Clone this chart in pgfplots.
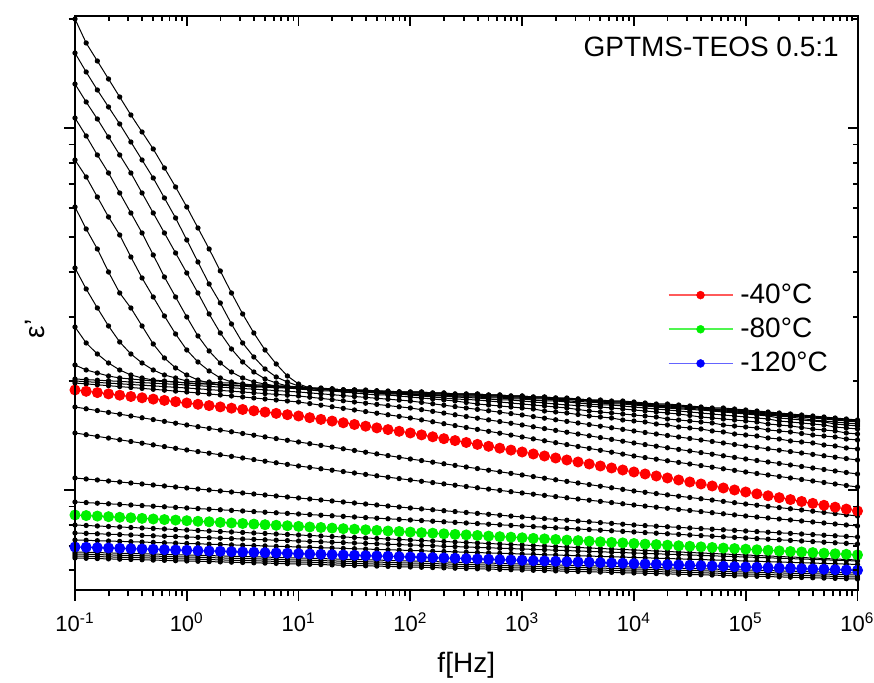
\documentclass[border=0pt]{standalone}
\usepackage{pgfplots}
\pgfplotsset{compat=1.18}
\usepackage{pgfplotstable}
\usepackage{fontspec}
\setmainfont{Liberation Sans}
\definecolor{cred}{RGB}{255,0,0}
\definecolor{cgreen}{RGB}{0,240,0}
\definecolor{cblue}{RGB}{0,0,255}
\definecolor{lred}{RGB}{255,90,90}
\definecolor{lgreen}{RGB}{80,245,80}
\definecolor{lblue}{RGB}{100,100,255}

\pgfplotstableread{
f a1 a2 a3 a4 a5 a6 a7 a8 a9 a10 a11 a12 r b1 b2 b3 b4 g b5 b6 b7 bl b8 b9 b10 b11
1e-1 571 537 506 472 430 383 322 263 225 211 209 207 200 183 157 112 88 75 65 57 50 43 38 36 34 32
1.2589e-1 547 518 488 454 413 361 301 247 220 210.4 208.3 206.1 198.7 181.2 155.3 111 87.4 74.4 64.5 56.6 49.7 42.7 37.7 35.7 33.7 31.7
1.5849e-1 529 500 471 435 393 341 282 236 217 209.8 207.6 205.2 197.4 179.4 153.6 110 86.8 73.9 64 56.2 49.3 42.3 37.4 35.4 33.4 31.4
1.9953e-1 511 483 453 417 373 318 264 227 214 209.2 206.9 204.3 196.1 177.6 151.9 109 86.2 73.3 63.5 55.8 49 42 37.1 35.1 33.1 31.1
2.5119e-1 493 466 435 397 355 297 248 220 212 208.6 206.2 203.4 194.8 175.8 150.2 108 85.6 72.7 63 55.4 48.6 41.7 36.8 34.8 32.8 30.8
3.1623e-1 475 448 417 377 333 282 236 215 211 208 205.5 202.5 193.5 174 148.5 107 85 72.2 62.5 55 48.3 41.3 36.5 34.5 32.5 30.5
3.9811e-1 458 430 397 357 312 264 227 212 210 207.4 204.8 201.6 192.2 172.2 146.8 106 84.4 71.6 62 54.6 47.9 41 36.2 34.2 32.2 30.2
5.0119e-1 441 412 377 335 293 246 220 210 209 206.8 204.1 200.7 190.9 170.4 145.1 105 83.8 71 61.5 54.2 47.6 40.7 35.9 33.9 31.9 29.9
6.3096e-1 422 392 357 313 274 232 215 209 208.5 206.2 203.4 199.8 189.6 168.6 143.4 104 83.2 70.4 61 53.8 47.2 40.3 35.6 33.6 31.6 29.6
7.9433e-1 403 372 337 293 256 222 212 208 208 205.6 202.7 198.9 188.3 166.8 141.7 103 82.6 69.9 60.5 53.4 46.9 40 35.3 33.3 31.3 29.3
1 383 350 317 273 240 215 209 207 207 205 202 198 187 165 140 102 82 69.3 60 53 46.5 39.7 35 33 31 29
1.2589 362 328 297 254 228 210 208 206.5 206 204.3 201.2 197 185.7 163.3 138.4 101 81.4 68.7 59.5 52.6 46.2 39.3 34.7 32.7 30.7 28.7
1.5849 341 306 276 239 219 207 208 206 206 203.6 200.4 196 184.4 161.6 136.8 100 80.8 68.2 59 52.2 45.8 39 34.4 32.4 30.4 28.4
1.9953 319 287 257 227 212 205 207 205.5 205 202.9 199.6 195 183.1 159.9 135.2 99 80.2 67.6 58.5 51.8 45.5 38.7 34.1 32.1 30.1 28.1
2.5119 297 266 241 218 208 204 207 205 205 202.2 198.8 194 181.8 158.2 133.6 98 79.6 67 58 51.4 45.1 38.3 33.8 31.8 29.8 27.8
3.1623 276 247 228 212 206 204 206 204.5 204 201.5 198 193 180.5 156.5 132 97 79 66.5 57.5 51 44.8 38 33.5 31.5 29.5 27.5
3.9811 257 233 218 208 204 203 205 204 203 200.8 197.2 192 179.2 154.8 130.4 96 78.4 65.9 57 50.6 44.4 37.7 33.2 31.2 29.2 27.2
5.0119 240 221 211 206 204 203 205 203.5 203 200.1 196.4 191 177.9 153.1 128.8 95 77.8 65.3 56.5 50.2 44.1 37.3 32.9 30.9 28.9 26.9
6.3096 226 213 207 204 203 203 204 203 202 199.4 195.6 190 176.6 151.4 127.2 94 77.2 64.7 56 49.8 43.7 37 32.6 30.6 28.6 26.6
7.9433 214 208 204 203 203 202 204 202.5 202 198.7 194.8 189 175.3 149.7 125.6 93 76.6 64.2 55.5 49.4 43.4 36.7 32.3 30.3 28.3 26.3
10 206 204 202 202 202 202 203 202 201 198 194 188 174 148 124 92 76 63.6 55 49 43 36.3 32 30 28 26
1.2589e1 202 202 202 202 201 201 202 201 200 197.1 192.8 186.4 172.3 146.3 122.6 91 75.4 63 54.5 48.6 42.7 36 31.7 29.7 27.7 25.7
1.5849e1 200 201 201 201 201 201 202 201 199 196.2 191.6 184.8 170.6 144.6 121.2 90 74.8 62.5 54 48.2 42.3 35.7 31.4 29.4 27.4 25.4
1.9953e1 200 201 201 201 200 200 201 200 199 195.3 190.4 183.2 168.9 142.9 119.8 89 74.2 61.9 53.5 47.8 42 35.3 31.1 29.1 27.1 25.1
2.5119e1 199 200 200 200 200 199 200 199 198 194.4 189.2 181.6 167.2 141.2 118.4 88 73.6 61.3 53 47.4 41.6 35 30.8 28.8 26.8 24.8
3.1623e1 199 200 200 200 199 198.5 199.5 198.5 197 193.5 188 180 165.5 139.5 117 87 73 60.8 52.5 47 41.3 34.7 30.5 28.5 26.5 24.5
3.9811e1 199 200 199 199 198 198 199 198 196 192.6 186.8 178.4 163.8 137.8 115.6 86 72.4 60.2 52 46.6 40.9 34.3 30.2 28.2 26.2 24.2
5.0119e1 199 199 199 199 198 197 198 197 195 191.7 185.6 176.8 162.1 136.1 114.2 85 71.8 59.6 51.5 46.2 40.6 34 29.9 27.9 25.9 23.9
6.3096e1 198 199 198 198 197 196 197 196 195 190.8 184.4 175.2 160.4 134.4 112.8 84 71.2 59 51 45.8 40.2 33.7 29.6 27.6 25.6 23.6
7.9433e1 198 198 198 198 197 196 197 196 194 189.9 183.2 173.6 158.7 132.7 111.4 83 70.6 58.5 50.5 45.4 39.9 33.3 29.3 27.3 25.3 23.3
1e2 198 198 197 197 196 195 196 195 193 189 182 172 157 131 110 82 70 57.9 50 45 39.5 33 29 27 25 23
1.2589e2 198 198 197 197 196 195 195 194 192 187.6 180.3 170.1 155.1 129.4 108.7 81.1 69.4 57.3 49.5 44.6 39.2 32.7 28.7 26.7 24.7 22.7
1.5849e2 197 197 196 196 195 194 195 193 191 186.2 178.6 168.2 153.2 127.8 107.4 80.2 68.8 56.8 49 44.2 38.8 32.3 28.4 26.4 24.4 22.4
1.9953e2 197 197 196 196 195 194 194 192 190 184.8 176.9 166.3 151.3 126.2 106.1 79.3 68.2 56.2 48.5 43.8 38.5 32 28.1 26.1 24.1 22.1
2.5119e2 196 196 195 195 194 193 193 191 189 183.4 175.2 164.4 149.4 124.6 104.8 78.4 67.6 55.6 48 43.4 38.1 31.7 27.8 25.8 23.8 21.8
3.1623e2 196 196 195 195 194 193 192.5 190.5 187.5 182 173.5 162.5 147.5 123 103.5 77.5 67 55.1 47.5 43 37.8 31.3 27.5 25.5 23.5 21.5
3.9811e2 196 196 195 195 194 193 192 190 186 180.6 171.8 160.6 145.6 121.4 102.2 76.6 66.4 54.5 47 42.6 37.4 31 27.2 25.2 23.2 21.2
5.0119e2 195 195 194 194 193 192 191 189 185 179.2 170.1 158.7 143.7 119.8 100.9 75.7 65.8 53.9 46.5 42.2 37.1 30.7 26.9 24.9 22.9 20.9
6.3096e2 195 195 194 194 193 192 190 188 184 177.8 168.4 156.8 141.8 118.2 99.6 74.8 65.2 53.3 46 41.8 36.7 30.3 26.6 24.6 22.6 20.6
7.9433e2 194 194 193 193 192 191 190 187 183 176.4 166.7 154.9 139.9 116.6 98.3 73.9 64.6 52.8 45.5 41.4 36.4 30 26.3 24.3 22.3 20.3
1e3 194 194 193 193 192 191 189 186 182 175 165 153 138 115 97 73 64 52.2 45 41 36 29.7 26 24 22 20
1.2589e3 193 193 192 192 191 190 188 185 181 173.4 163.2 151.1 136 113.4 95.8 72.2 63.4 51.6 44.5 40.6 35.7 29.3 25.7 23.7 21.7 19.7
1.5849e3 193 193 192 192 191 189 187 184 179 171.8 161.4 149.2 134 111.8 94.6 71.4 62.8 51.1 44 40.2 35.3 29 25.4 23.4 21.4 19.4
1.9953e3 192 192 191 191 190 189 186 183 178 170.2 159.6 147.3 132 110.2 93.4 70.6 62.2 50.5 43.5 39.8 35 28.7 25.1 23.1 21.1 19.1
2.5119e3 192 191 191 190 189 188 185 182 177 168.6 157.8 145.4 130 108.6 92.2 69.8 61.6 49.9 43 39.4 34.6 28.3 24.8 22.8 20.8 18.8
3.1623e3 191 191 190 190 188.5 187 184.5 180.5 175.5 167 156 143.5 128 107 91 69 61 49.4 42.5 39 34.3 28 24.5 22.5 20.5 18.5
3.9811e3 190 190 189 189 188 186 184 179 174 165.4 154.2 141.6 126 105.4 89.8 68.2 60.4 48.8 42 38.6 33.9 27.7 24.2 22.2 20.2 18.2
5.0119e3 190 189 189 188 187 185 183 178 173 163.8 152.4 139.7 124 103.8 88.6 67.4 59.8 48.2 41.5 38.2 33.6 27.3 23.9 21.9 19.9 17.9
6.3096e3 189 188 188 187 186 185 182 177 172 162.2 150.6 137.8 122 102.2 87.4 66.6 59.2 47.6 41 37.8 33.2 27 23.6 21.6 19.6 17.6
7.9433e3 189 188 188 187 186 184 181 176 170 160.6 148.8 135.9 120 100.6 86.2 65.8 58.6 47.1 40.5 37.4 32.9 26.7 23.3 21.3 19.3 17.3
1e4 188 187 187 186 185 183 180 175 169 159 147 134 118 99 85 65 58 46.5 40 37 32.5 26.3 23 21 19 17
1.2589e4 187 186 186 185 184 182 179 174 168 157.5 145.4 132.4 116 97.7 83.9 64.4 57.4 45.9 39.5 36.6 32.2 26 22.7 20.7 18.7 16.7
1.5849e4 186 185 185 184 183 181 178 173 166 156 143.8 130.8 114 96.4 82.8 63.8 56.8 45.4 39 36.2 31.8 25.7 22.4 20.4 18.4 16.4
1.9953e4 186 185 184 183 182 180 177 171 165 154.5 142.2 129.2 112 95.1 81.7 63.2 56.2 44.8 38.5 35.8 31.5 25.3 22.1 20.1 18.1 16.1
2.5119e4 185 184 183 182 181 179 176 170 163 153 140.6 127.6 110 93.8 80.6 62.6 55.6 44.2 38 35.4 31.1 25 21.8 19.8 17.8 15.8
3.1623e4 184 183 182.5 181.5 180.5 178 174.5 169 162 151.5 139 126 108 92.5 79.5 62 55 43.7 37.5 35 30.8 24.7 21.5 19.5 17.5 15.5
3.9811e4 183 182 182 181 180 177 173 168 161 150 137.4 124.4 106 91.2 78.4 61.4 54.4 43.1 37 34.6 30.4 24.3 21.2 19.2 17.2 15.2
5.0119e4 182 181 181 180 179 176 172 167 159 148.5 135.8 122.8 104 89.9 77.3 60.8 53.8 42.5 36.5 34.2 30.1 24 20.9 18.9 16.9 14.9
6.3096e4 182 181 180 179 178 175 171 165 158 147 134.2 121.2 102 88.6 76.2 60.2 53.2 41.9 36 33.8 29.7 23.7 20.6 18.6 16.6 14.6
7.9433e4 181 180 179 178 177 174 170 164 156 145.5 132.6 119.6 100 87.3 75.1 59.6 52.6 41.4 35.5 33.4 29.4 23.3 20.3 18.3 16.3 14.3
1e5 180 179 178 177 176 173 169 163 155 144 131 118 98 86 74 59 52 40.8 35 33 29 23 20 18 16 14
1.2589e5 179 178 177 176 175 172 168 162 154 142.6 129.5 116.5 96.1 84.8 73 58.4 51.4 40.2 34.5 32.6 28.7 22.7 19.7 17.7 15.7 13.7
1.5849e5 178 177 176 175 174 171 166 160 152 141.2 128 115 94.2 83.6 72 57.8 50.8 39.7 34 32.2 28.3 22.3 19.4 17.4 15.4 13.4
1.9953e5 177 176 175 174 172 169 165 159 151 139.8 126.5 113.5 92.3 82.4 71 57.2 50.2 39.1 33.5 31.8 28 22 19.1 17.1 15.1 13.1
2.5119e5 176 175 174 173 171 168 164 158 149 138.4 125 112 90.4 81.2 70 56.6 49.6 38.5 33 31.4 27.6 21.7 18.8 16.8 14.8 12.8
3.1623e5 175 174 173 171.5 170 167 162.5 156.5 148 137 123.5 110.5 88.5 80 69 56 49 38 32.5 31 27.3 21.3 18.5 16.5 14.5 12.5
3.9811e5 174 173 172 170 169 166 161 155 147 135.6 122 109 86.6 78.8 68 55.4 48.4 37.4 32 30.6 26.9 21 18.2 16.2 14.2 12.2
5.0119e5 173 172 171 169 168 165 160 154 145 134.2 120.5 107.5 84.7 77.6 67 54.8 47.8 36.8 31.5 30.2 26.6 20.7 17.9 15.9 13.9 11.9
6.3096e5 172 171 170 168 166 163 159 153 144 132.8 119 106 82.8 76.4 66 54.2 47.2 36.2 31 29.8 26.2 20.3 17.6 15.6 13.6 11.6
7.9433e5 171 170 169 167 165 162 157 151 142 131.4 117.5 104.5 80.9 75.2 65 53.6 46.6 35.7 30.5 29.4 25.9 20 17.3 15.3 13.3 11.3
1e6 170 169 168 166 164 161 156 150 141 130 116 103 79 74 64 53 46 35.1 30 29 25.5 19.7 17 15 13 11
}\data

\begin{document}
\begin{tikzpicture}
\useasboundingbox (-37.5pt,-46.5pt) rectangle (399.5pt,295pt);
\begin{axis}[
  scale only axis, width=391.25pt, height=287pt,
  at={(0pt,0pt)}, anchor=south west,
  xmode=log, xmin=0.1, xmax=1e6, ymin=0, ymax=574,
  axis line style={line width=1pt},
  every tick/.style={black, line width=0.9pt},
  xtick={1e-1,1,1e1,1e2,1e3,1e4,1e5,1e6},
  minor xtick={0.2,0.3,0.4,0.5,0.6,0.7,0.8,0.9,2,3,4,5,6,7,8,9,20,30,40,50,60,70,80,90,200,300,400,500,600,700,800,900,2e3,3e3,4e3,5e3,6e3,7e3,8e3,9e3,2e4,3e4,4e4,5e4,6e4,7e4,8e4,9e4,2e5,3e5,4e5,5e5,6e5,7e5,8e5,9e5},
  ytick={100,462},
  minor ytick={19.7,43.9,64.9,83.4,209,272.7,317.9,353,381.7,405.9,426.9,445.4,571},
  yticklabels={},
  tick align=outside, xtick pos=left, ytick pos=left,
  major tick length=5.5pt, minor tick length=3.2pt,
  xticklabels={10\textsuperscript{-1},10\textsuperscript{0},10\textsuperscript{1},10\textsuperscript{2},10\textsuperscript{3},10\textsuperscript{4},10\textsuperscript{5},10\textsuperscript{6}},
  xticklabel style={font=\fontsize{11}{13}\selectfont, yshift=-2.5pt},
  xlabel={f[Hz]},
  xlabel style={at={(rel axis cs:0.5,-0.131)}, anchor=center, font=\fontsize{14}{16}\selectfont},
  ylabel={ε'},
  ylabel style={at={(rel axis cs:-0.051,0.455)}, anchor=center, font=\fontsize{14}{16}\selectfont},
  legend style={at={(rel axis cs:0.757,0.541)}, anchor=north west, draw=none, fill=none,
    font=\fontsize{14}{16}\selectfont, row sep=1.8pt, inner sep=0pt,
    /tikz/every odd column/.append style={column sep=1.5pt}},
  legend cell align=left,
]
\pgfplotsinvokeforeach{a1,a2,a3,a4,a5,a6,a7,a8,a9,a10,a11,a12,b1,b2,b3,b4,b5,b6,b7,b8,b9,b10,b11}{
  \addplot[black, line width=0.5pt, mark=*, mark size=1.05pt, forget plot] table[x=f,y=#1]{\data};
}
\addplot[color=cred, line width=0.5pt, mark=*, mark size=2.5pt, mark options={fill=cred, draw=cred}, forget plot] table[x=f,y=r]{\data};
\addplot[color=cgreen, line width=0.5pt, mark=*, mark size=2.5pt, mark options={fill=cgreen, draw=cgreen}, forget plot] table[x=f,y=g]{\data};
\addplot[color=cblue, line width=0.5pt, mark=*, mark size=2.5pt, mark options={fill=cblue, draw=cblue}, forget plot] table[x=f,y=bl]{\data};
\addlegendimage{legend image code/.code={\draw[draw=lred, line width=0.8pt] (0pt,0pt) -- (32pt,0pt); \draw[draw=cred, fill=cred, line width=0.2pt] (16pt,0pt) circle (2pt);}}
\addlegendentry{-40°C}
\addlegendimage{legend image code/.code={\draw[draw=lgreen, line width=0.8pt] (0pt,0pt) -- (32pt,0pt); \draw[draw=cgreen, fill=cgreen, line width=0.2pt] (16pt,0pt) circle (2pt);}}
\addlegendentry{-80°C}
\addlegendimage{legend image code/.code={\draw[draw=lblue, line width=0.8pt] (0pt,0pt) -- (32pt,0pt); \draw[draw=cblue, fill=cblue, line width=0.2pt] (16pt,0pt) circle (2pt);}}
\addlegendentry{-120°C}
\node[font=\fontsize{14}{16}\selectfont, anchor=center] at (rel axis cs:0.813,0.946) {GPTMS-TEOS 0.5:1};
\end{axis}
\begin{axis}[
  scale only axis, width=391.25pt, height=287pt,
  at={(0pt,0pt)}, anchor=south west,
  xmode=log, xmin=0.1, xmax=1e6, ymin=0, ymax=574,
  axis line style={line width=1pt},
  every tick/.style={black, line width=0.9pt},
  xtick={1e-1,1,1e1,1e2,1e3,1e4,1e5,1e6},
  minor xtick={0.2,0.3,0.4,0.5,0.6,0.7,0.8,0.9,2,3,4,5,6,7,8,9,20,30,40,50,60,70,80,90,200,300,400,500,600,700,800,900,2e3,3e3,4e3,5e3,6e3,7e3,8e3,9e3,2e4,3e4,4e4,5e4,6e4,7e4,8e4,9e4,2e5,3e5,4e5,5e5,6e5,7e5,8e5,9e5},
  ytick={100,462},
  minor ytick={19.7,43.9,64.9,83.4,209,272.7,317.9,353,381.7,405.9,426.9,445.4,571},
  yticklabels={}, xticklabels={},
  tick align=inside, xtick pos=right, ytick pos=right,
  major tick length=5pt, minor tick length=2.5pt,
]
\addplot[draw=none, forget plot] coordinates {(1,100)};
\end{axis}
\end{tikzpicture}
\end{document}
